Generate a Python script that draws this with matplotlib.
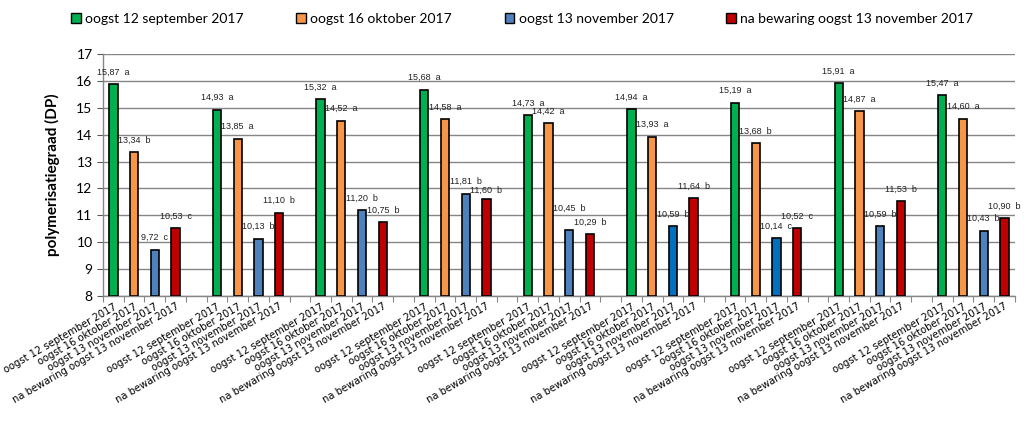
import numpy as np
import matplotlib.pyplot as plt
from matplotlib.patches import Patch

series_names = ['oogst 12 september 2017', 'oogst 16 oktober 2017',
                'oogst 13 november 2017', 'na bewaring oogst 13 november 2017']
green = [15.87, 14.93, 15.32, 15.68, 14.73, 14.94, 15.19, 15.91, 15.47]
orange = [13.34, 13.85, 14.52, 14.58, 14.42, 13.93, 13.68, 14.87, 14.60]
blue = [9.72, 10.13, 11.20, 11.81, 10.45, 10.59, 10.14, 10.59, 10.43]
red = [10.53, 11.10, 10.75, 11.60, 10.29, 11.64, 10.52, 11.53, 10.90]
letters_green = ['a'] * 9
letters_orange = ['b', 'a', 'a', 'a', 'a', 'a', 'b', 'a', 'a']
letters_blue = ['c', 'b', 'b', 'b', 'b', 'b', 'c', 'b', 'b']
letters_red = ['c', 'b', 'b', 'b', 'b', 'b', 'c', 'b', 'b']

colors = ['#00B050', '#F79646', '#4F81BD', '#C00000']
dark_blue = '#0070C0'
dark_blue_groups = [5, 6]  # groepen met donkerder blauw

# labels die in het origineel handmatig verschoven zijn: (serie, groep) -> extra hoogte
label_nudge = {(2, 4): 0.35, (3, 3): -0.12}

values = [green, orange, blue, red]
letters = [letters_green, letters_orange, letters_blue, letters_red]
n_groups = len(green)
slots = 5  # 4 staven + lege plek per groep

fig = plt.figure(figsize=(10.24, 4.22), dpi=100)
ax = fig.add_axes([0.1006, 0.2986, 0.8904, 0.5734])

tick_pos, tick_lab = [], []
for s in range(4):
    for g in range(n_groups):
        x = g * slots + s
        c = colors[s]
        if s == 2 and g in dark_blue_groups:
            c = dark_blue
        v = values[s][g]
        ax.bar(x, v - 8, bottom=8, width=0.4, color=c, edgecolor='black',
               linewidth=1.2, zorder=3)
        lab = f'{v:.2f}'.replace('.', ',') + '  ' + letters[s][g]
        dy = 0.45 + label_nudge.get((s, g), 0)
        ax.text(x, v + dy, lab, ha='center', va='center', fontsize=6.5,
                family='Liberation Sans', color='#222222', zorder=4)
        tick_pos.append(x)
        tick_lab.append(series_names[s])

n_cat = n_groups * slots - 1
ax.set_xlim(-0.5, n_cat - 0.5)
ax.set_ylim(8, 17)
ax.set_yticks(range(8, 18))
ax.tick_params(axis='y', labelsize=10, colors='#595959', length=4, labelcolor='black')
for t in ax.get_yticklabels():
    t.set_family('Lato')

ax.set_xticks(np.arange(-0.5, n_cat, 1.0))
ax.set_xticklabels([])
ax.tick_params(axis='x', which='major', length=4, colors='#868686')
ax.set_xticks(tick_pos, minor=True)
ax.set_xticklabels(tick_lab, minor=True, rotation=30, ha='right', va='top',
                   rotation_mode='anchor', fontsize=7.2, family='DejaVu Sans')
ax.tick_params(axis='x', which='minor', length=0, pad=4)

ax.grid(axis='y', color='#868686', linewidth=1.0, zorder=0)
for sp in ['top', 'right']:
    ax.spines[sp].set_visible(False)
for sp in ['left', 'bottom']:
    ax.spines[sp].set_color('#868686')
    ax.spines[sp].set_linewidth(1.0)

ax.set_ylabel('polymerisatiegraad (DP)', fontsize=11, fontweight='bold',
              family='Lato', labelpad=12)

handles = [Patch(facecolor=c, edgecolor='black', linewidth=1.0) for c in colors]
fig.legend(handles, series_names, loc='center', bbox_to_anchor=(0.51, 0.955),
           ncol=4, frameon=False, prop={'family': 'Lato', 'size': 10},
           handlelength=0.7, handleheight=0.7, handletextpad=0.3,
           columnspacing=3.8)

fig.savefig('out.png', dpi=100)
